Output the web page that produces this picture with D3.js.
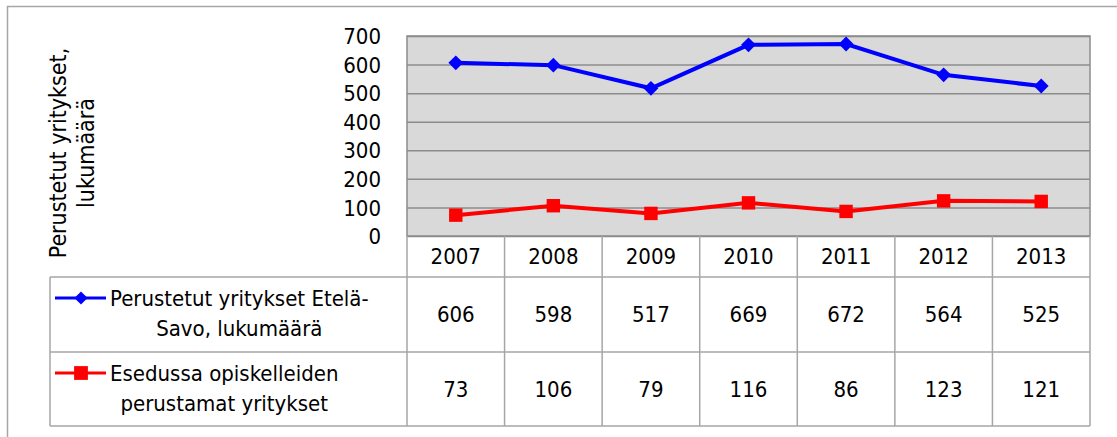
<!DOCTYPE html>
<html>
<head>
<meta charset="utf-8">
<script src="https://cdn.jsdelivr.net/npm/d3@7"></script>
<style>
  body { margin: 0; background: #fff; }
  text { font-family: "Liberation Sans Narrow", "DejaVu Sans Condensed", sans-serif; fill: #000; }
</style>
</head>
<body>
<div id="viz"></div>
<script>
// data
var years = ['2007', '2008', '2009', '2010', '2011', '2012', '2013'];
var perustetut = [606, 598, 517, 669, 672, 564, 525];
var esedussa = [73, 106, 79, 116, 86, 123, 121];
var yTicks = [0, 100, 200, 300, 400, 500, 600, 700];
var seriesNames = [
  ['Perustetut yritykset Etelä-', 'Savo, lukumäärä'],
  ['Esedussa opiskelleiden', 'perustamat yritykset']
];
var yTitle = ['Perustetut yritykset,', 'lukumäärä'];

var W = 1117, H = 437;
var plotL = 407, plotR = 1090, plotT = 36, plotB = 236;
var legL = 50;
var rowY = [236, 277, 352, 426];
var fs = 22;

var svg = d3.select('#viz').append('svg')
  .attr('width', W)
  .attr('height', H);

// outer frame (cropped on right/bottom)
svg.append('rect')
  .attr('x', 7.5).attr('y', 6.5)
  .attr('width', W + 20).attr('height', H + 20)
  .attr('fill', 'none')
  .attr('stroke', '#a6a6a6')
  .attr('stroke-width', 1.5);

var x = d3.scaleBand().domain(years).range([plotL, plotR]);
var y = d3.scaleLinear().domain([0, 700]).range([plotB, plotT]);
var cx = function (d) { return x(d) + x.bandwidth() / 2; };

// plot area
svg.append('rect')
  .attr('x', plotL).attr('y', plotT)
  .attr('width', plotR - plotL).attr('height', plotB - plotT)
  .attr('fill', '#d9d9d9');

// gridlines
svg.append('g')
  .attr('transform', 'translate(' + plotL + ',0)')
  .call(d3.axisLeft(y).tickValues(yTicks).tickSize(-(plotR - plotL)).tickFormat(''))
  .call(function (g) {
    g.select('.domain').remove();
    g.selectAll('line').attr('stroke', '#8c8c8c').attr('stroke-width', 1.5);
  });

// plot border
svg.append('rect')
  .attr('x', plotL).attr('y', plotT)
  .attr('width', plotR - plotL).attr('height', plotB - plotT)
  .attr('fill', 'none')
  .attr('stroke', '#8c8c8c')
  .attr('stroke-width', 1.5);

// y tick labels
svg.append('g')
  .attr('transform', 'translate(381,0)')
  .call(d3.axisLeft(y).tickValues(yTicks).tickSize(0).tickPadding(0))
  .call(function (g) {
    g.select('.domain').remove();
    g.selectAll('text')
      .attr('font-size', fs)
      .attr('font-family', '"Liberation Sans Narrow", "DejaVu Sans Condensed", sans-serif')
      .attr('fill', '#000')
      .attr('dy', '0.35em');
  });

// y title
var yt = svg.append('text')
  .attr('transform', 'translate(58,153) rotate(-90)')
  .attr('text-anchor', 'middle')
  .attr('font-size', 23);
yTitle.forEach(function (t, i) {
  yt.append('tspan').attr('x', 0).attr('dy', i === 0 ? '0.35em' : '1.2em').text(t);
});

// lines
var line = d3.line()
  .x(function (d, i) { return cx(years[i]); })
  .y(function (d) { return y(d); });

svg.append('path')
  .datum(perustetut)
  .attr('d', line)
  .attr('fill', 'none')
  .attr('stroke', '#0000ff')
  .attr('stroke-width', 4);

svg.append('path')
  .datum(esedussa)
  .attr('d', line)
  .attr('fill', 'none')
  .attr('stroke', '#ff0000')
  .attr('stroke-width', 4);

var diamond = d3.symbol().type(d3.symbolDiamond2).size(140);
var square = d3.symbol().type(d3.symbolSquare).size(180);

svg.selectAll('.pt1')
  .data(perustetut)
  .enter()
  .append('path')
  .attr('class', 'pt1')
  .attr('d', diamond)
  .attr('transform', function (d, i) { return 'translate(' + cx(years[i]) + ',' + y(d) + ')'; })
  .attr('fill', '#0000ff');

svg.selectAll('.pt2')
  .data(esedussa)
  .enter()
  .append('path')
  .attr('class', 'pt2')
  .attr('d', square)
  .attr('transform', function (d, i) { return 'translate(' + cx(years[i]) + ',' + y(d) + ')'; })
  .attr('fill', '#ff0000');

// data table grid
var grid = svg.append('g')
  .attr('stroke', '#a6a6a6')
  .attr('stroke-width', 1.5)
  .attr('fill', 'none');

// vertical lines in table
years.forEach(function (yr) {
  grid.append('line')
    .attr('x1', x(yr)).attr('x2', x(yr))
    .attr('y1', plotB).attr('y2', rowY[3]);
});
grid.append('line')
  .attr('x1', plotR).attr('x2', plotR)
  .attr('y1', plotB).attr('y2', rowY[3]);
grid.append('line')
  .attr('x1', legL).attr('x2', legL)
  .attr('y1', rowY[1]).attr('y2', rowY[3]);
// horizontal lines
[1, 2, 3].forEach(function (k) {
  grid.append('line')
    .attr('x1', legL).attr('x2', plotR)
    .attr('y1', rowY[k]).attr('y2', rowY[k]);
});

// year labels
svg.selectAll('.yr')
  .data(years)
  .enter()
  .append('text')
  .attr('class', 'yr')
  .attr('x', cx)
  .attr('y', (rowY[0] + rowY[1]) / 2)
  .attr('dy', '0.35em')
  .attr('text-anchor', 'middle')
  .attr('font-size', fs)
  .text(function (d) { return d; });

// values
[perustetut, esedussa].forEach(function (vals, r) {
  svg.selectAll('.v' + r)
    .data(vals)
    .enter()
    .append('text')
    .attr('class', 'v' + r)
    .attr('x', function (d, i) { return cx(years[i]); })
    .attr('y', (rowY[r + 1] + rowY[r + 2]) / 2)
    .attr('dy', '0.35em')
    .attr('text-anchor', 'middle')
    .attr('font-size', fs)
    .text(function (d) { return d; });
});

// legend keys and names
var colors = ['#0000ff', '#ff0000'];
var marks = [d3.symbol().type(d3.symbolDiamond2).size(110), d3.symbol().type(d3.symbolSquare).size(190)];
seriesNames.forEach(function (nm, r) {
  var top = rowY[r + 1];
  var ky = top + 21;
  svg.append('line')
    .attr('x1', 55).attr('x2', 106)
    .attr('y1', ky).attr('y2', ky)
    .attr('stroke', colors[r])
    .attr('stroke-width', 3);
  svg.append('path')
    .attr('d', marks[r])
    .attr('transform', 'translate(81,' + ky + ')')
    .attr('fill', colors[r]);
  var t = svg.append('text')
    .attr('text-anchor', 'middle')
    .attr('font-size', fs);
  var s1 = t.append('tspan').attr('y', ky).attr('dy', '0.35em').text(nm[0]);
  var s2 = t.append('tspan').attr('dy', '1.36em').text(nm[1]);
  // block starts right after the key, lines centred on the widest one
  var wMax = Math.max(s1.node().getComputedTextLength(), s2.node().getComputedTextLength());
  var mid = 110 + wMax / 2;
  s1.attr('x', mid);
  s2.attr('x', mid);
});
</script>
</body>
</html>
